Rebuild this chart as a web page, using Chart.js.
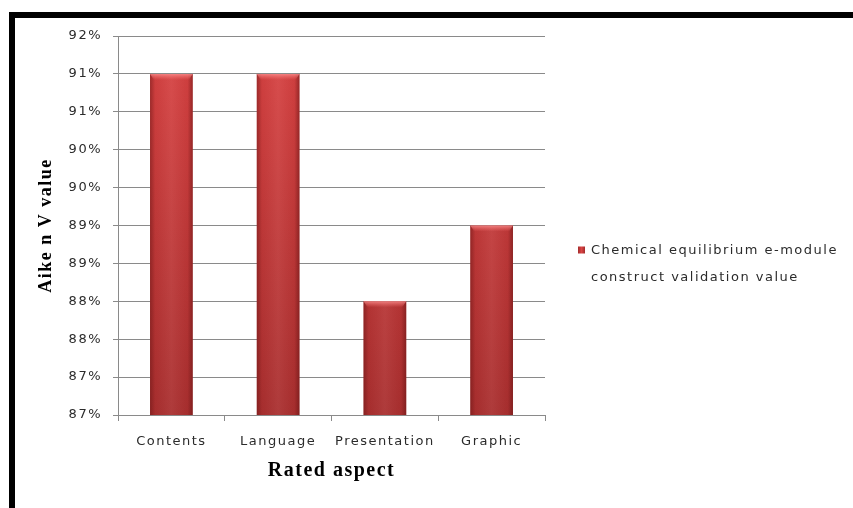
<!DOCTYPE html>
<html>
<head>
<meta charset="utf-8">
<title>Aiken V value by rated aspect</title>
<script src="https://cdn.jsdelivr.net/npm/chart.js@4/dist/chart.umd.min.js"></script>
<style>
  html, body { margin: 0; padding: 0; background: #ffffff; }
  #wrap { position: relative; width: 853px; height: 508px; overflow: hidden; }
  #frame {
    position: absolute; left: 9px; top: 12px; width: 900px; height: 600px;
    border-top: 6px solid #000; border-left: 6px solid #000; box-sizing: border-box;
    pointer-events: none;
  }
  canvas { position: absolute; left: 0; top: 0; }
</style>
</head>
<body>
<div id="wrap">
  <canvas id="chart" width="853" height="508"></canvas>
  <div id="frame"></div>
</div>
<script>
// Rated aspects and their Aiken V values
const categories = ['Contents', 'Language', 'Presentation', 'Graphic'];
const aikenValues = [0.915, 0.915, 0.885, 0.895];
const seriesLabel = 'Chemical equilibrium e-module construct validation value';
const legendLines = ['Chemical equilibrium e-module', 'construct validation value'];

// Axis range and the percentage labels shown on each tick (bottom to top)
const yMin = 0.87;
const yMax = 0.92;
const yStep = 0.005;
const yTickLabels = ['87%', '87%', '88%', '88%', '89%', '89%', '90%', '90%', '91%', '91%', '92%'];

const tickFont = { family: 'DejaVu Sans', size: 13 };
const textColor = '#2b2b2b';
const spacing = '1.5px';

// Keeps the wide letter spacing on the canvas (state resets on resize)
const spacingPlugin = {
  id: 'spacing',
  beforeUpdate(chart) { chart.ctx.letterSpacing = spacing; },
  beforeDraw(chart) { chart.ctx.letterSpacing = spacing; }
};

// Bevel shading: darker sides and a lighter cap on each bar
const bevelPlugin = {
  id: 'bevel',
  afterDatasetsDraw(chart) {
    const ctx = chart.ctx;
    const area = chart.chartArea;
    chart.getDatasetMeta(0).data.forEach(el => {
      const p = el.getProps(['x', 'y', 'base', 'width'], true);
      const l = p.x - p.width / 2, r = p.x + p.width / 2;
      const bottom = Math.min(p.base, area.bottom);
      const h = bottom - p.y;
      ctx.save();
      const side = ctx.createLinearGradient(l, 0, r, 0);
      side.addColorStop(0, 'rgba(90,15,15,0.45)');
      side.addColorStop(0.12, 'rgba(90,15,15,0.05)');
      side.addColorStop(0.5, 'rgba(255,255,255,0.06)');
      side.addColorStop(0.88, 'rgba(90,15,15,0.05)');
      side.addColorStop(1, 'rgba(90,15,15,0.5)');
      ctx.fillStyle = side;
      ctx.fillRect(l, p.y, p.width, h);
      const capH = 6;
      const cap = ctx.createLinearGradient(0, p.y, 0, p.y + capH);
      cap.addColorStop(0, 'rgba(255,150,150,0.75)');
      cap.addColorStop(1, 'rgba(255,120,120,0.0)');
      ctx.fillStyle = cap;
      ctx.beginPath();
      ctx.moveTo(l, p.y);
      ctx.lineTo(r, p.y);
      ctx.lineTo(r - 4, p.y + capH);
      ctx.lineTo(l + 4, p.y + capH);
      ctx.closePath();
      ctx.fill();
      ctx.restore();
    });
  }
};

// Side legend with a two-line series name
const sideLegendPlugin = {
  id: 'sideLegend',
  afterDraw(chart) {
    const ctx = chart.ctx;
    const area = chart.chartArea;
    const x0 = area.right + 33;
    const yMid = (area.top + area.bottom) / 2 + 25;
    ctx.save();
    ctx.letterSpacing = spacing;
    const g = ctx.createLinearGradient(x0, 0, x0 + 7, 0);
    g.addColorStop(0, '#a32b2b');
    g.addColorStop(0.5, '#d94444');
    g.addColorStop(1, '#a32b2b');
    ctx.fillStyle = g;
    ctx.fillRect(x0, yMid - 4, 7, 7);
    ctx.fillStyle = textColor;
    ctx.font = tickFont.size + 'px "' + tickFont.family + '"';
    ctx.textBaseline = 'middle';
    ctx.textAlign = 'left';
    legendLines.forEach((line, i) => {
      ctx.fillText(line, x0 + 13, yMid + i * 27);
    });
    ctx.restore();
  }
};

const ctx = document.getElementById('chart').getContext('2d');
new Chart(ctx, {
  type: 'bar',
  data: {
    labels: categories,
    datasets: [{
      label: seriesLabel,
      data: aikenValues,
      backgroundColor(context) {
        const area = context.chart.chartArea;
        if (!area) return '#c83a3a';
        const g = context.chart.ctx.createLinearGradient(0, area.top, 0, area.bottom);
        g.addColorStop(0, '#d94343');
        g.addColorStop(1, '#a92f2f');
        return g;
      },
      borderWidth: 0,
      barPercentage: 0.4,
      categoryPercentage: 1.0
    }]
  },
  options: {
    responsive: false,
    animation: false,
    devicePixelRatio: 1,
    layout: { padding: { left: 0, top: 36, right: 308, bottom: 0 } },
    plugins: {
      legend: { display: false },
      tooltip: { enabled: false }
    },
    scales: {
      x: {
        grid: {
          display: true,
          offset: true,
          drawOnChartArea: false,
          drawTicks: true,
          tickLength: 6,
          color: '#8a8a8a'
        },
        border: { display: true, color: '#8a8a8a', width: 1 },
        ticks: { font: tickFont, color: textColor, padding: 13, maxRotation: 0 },
        title: {
          display: true,
          text: 'Rated aspect',
          font: { family: 'Liberation Serif', size: 20, weight: 'bold' },
          color: '#000000',
          padding: { top: 0, bottom: 25 }
        },
        afterFit(scale) { scale.height = 93; }
      },
      y: {
        min: yMin,
        max: yMax,
        grid: { color: '#8a8a8a', tickLength: 5, drawTicks: true },
        border: { display: true, color: '#8a8a8a', width: 1 },
        ticks: {
          stepSize: yStep,
          font: tickFont,
          color: textColor,
          padding: 11,
          callback(value, index) { return yTickLabels[index]; }
        },
        title: {
          display: true,
          text: 'Aike n V value',
          font: { family: 'Liberation Serif', size: 18, weight: 'bold' },
          color: '#000000',
          padding: { top: 36, bottom: 0 }
        },
        afterFit(scale) { scale.width = 118; }
      }
    }
  },
  plugins: [spacingPlugin, bevelPlugin, sideLegendPlugin]
});
</script>
</body>
</html>
